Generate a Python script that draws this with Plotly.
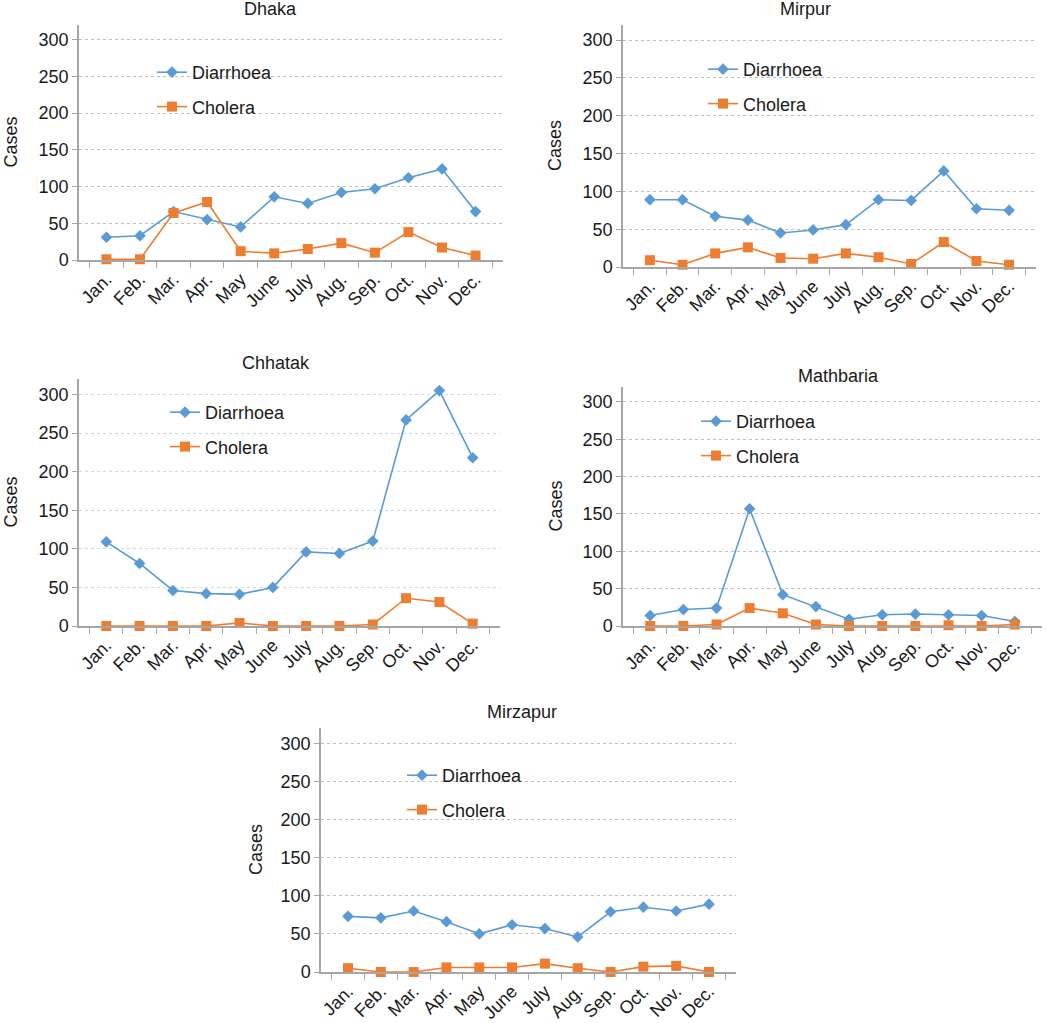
import plotly.graph_objects as go

months = ["Jan.", "Feb.", "Mar.", "Apr.", "May", "June",
          "July", "Aug.", "Sep.", "Oct.", "Nov.", "Dec."]

sites = ["Dhaka", "Mirpur", "Chhatak", "Mathbaria", "Mirzapur"]

dhaka_diarrhoea = [31, 33, 66, 55, 45, 86, 77, 92, 97, 112, 124, 66]
dhaka_cholera = [1, 1, 64, 79, 12, 9, 15, 23, 10, 38, 17, 6]

mirpur_diarrhoea = [89, 89, 67, 62, 45, 49, 56, 89, 88, 127, 77, 75]
mirpur_cholera = [9, 3, 18, 26, 12, 11, 18, 13, 4, 33, 8, 3]

chhatak_diarrhoea = [109, 81, 46, 42, 41, 50, 96, 94, 110, 267, 305, 218]
chhatak_cholera = [0, 0, 0, 0, 4, 0, 0, 0, 2, 36, 31, 3]

mathbaria_diarrhoea = [14, 22, 24, 157, 42, 26, 9, 15, 16, 15, 14, 6]
mathbaria_cholera = [0, 0, 2, 24, 17, 2, 0, 0, 0, 1, 0, 2]

mirzapur_diarrhoea = [73, 71, 80, 66, 50, 62, 57, 46, 79, 85, 80, 89]
mirzapur_cholera = [5, 0, 0, 6, 6, 6, 11, 5, 0, 7, 8, 0]

diarrhoea = [dhaka_diarrhoea, mirpur_diarrhoea, chhatak_diarrhoea,
             mathbaria_diarrhoea, mirzapur_diarrhoea]
cholera = [dhaka_cholera, mirpur_cholera, chhatak_cholera,
           mathbaria_cholera, mirzapur_cholera]

W, H = 1050, 1023
BLUE = "#5B9BD5"
ORANGE = "#ED7D31"
FONT = "Liberation Sans, Arial, sans-serif"


def px(x):
    return x / W


def py(y):
    return 1 - y / H


# panel boxes in pixels: left, right, top, bottom (bottom = value 0)
boxes = [
    (79, 503, 25, 260),
    (623, 1036, 25, 267),
    (79, 500, 379, 626),
    (623, 1042, 387, 626),
    (321, 736, 728, 972),
]
legend_pos = [(152, 54), (703, 51), (165, 394), (696, 403), (402, 757)]
title_pos = [(270, 9), (805, 9), (276, 363), (838, 376), (522, 712)]
ytitle_x = [10, 555, 10, 555, 256]
grid_colors = ["#bfbfbf", "#bfbfbf", "#c9daf0", "#bfbfbf", "#bfbfbf"]

fig = go.Figure()
layout = dict(annotations=[])

for i, name in enumerate(sites):
    n = "" if i == 0 else str(i + 1)
    leg = "legend" if i == 0 else f"legend{i + 1}"
    fig.add_trace(go.Scatter(
        x=months, y=diarrhoea[i], name="Diarrhoea", mode="lines+markers",
        xaxis="x" + n, yaxis="y" + n, legend=leg, legendgroup=f"d{i}",
        line=dict(color=BLUE, width=1.6),
        marker=dict(symbol="diamond", size=9, color=BLUE),
        cliponaxis=False,
    ))
    fig.add_trace(go.Scatter(
        x=months, y=cholera[i], name="Cholera", mode="lines+markers",
        xaxis="x" + n, yaxis="y" + n, legend=leg, legendgroup=f"c{i}",
        line=dict(color=ORANGE, width=1.6),
        marker=dict(symbol="square", size=10, color=ORANGE),
        cliponaxis=False,
    ))

    l, r, t, b = boxes[i]
    layout["xaxis" + n] = dict(
        domain=[px(l), px(r)], anchor="y" + n, type="category",
        automargin=False,
        tickangle=-45, tickson="boundaries", ticks="outside", ticklen=6,
        tickcolor="#a6a6a6", showline=True, linecolor="#a6a6a6",
        linewidth=1.5, showgrid=False,
        tickfont=dict(family=FONT, size=18, color="#1a1a1a"),
    )
    layout["yaxis" + n] = dict(
        domain=[py(b), py(t)], anchor="x" + n,
        automargin=False,
        range=[0, 320], tickvals=[0, 50, 100, 150, 200, 250, 300],
        ticks="outside", ticklen=5, tickcolor="#a6a6a6",
        showline=True, linecolor="#a6a6a6", linewidth=1.5,
        showgrid=True, gridcolor=grid_colors[i], griddash="dot",
        gridwidth=1.2, zeroline=False,
        tickfont=dict(family=FONT, size=18, color="#1a1a1a"),
    )
    lx, ly = legend_pos[i]
    layout[leg] = dict(
        x=px(lx), y=py(ly), xanchor="left", yanchor="top",
        bgcolor="rgba(0,0,0,0)", traceorder="grouped", tracegroupgap=8,
        font=dict(family=FONT, size=18, color="#1a1a1a"),
    )
    tx, ty = title_pos[i]
    layout["annotations"].append(dict(
        text=name, x=px(tx), y=py(ty), xref="paper", yref="paper",
        xanchor="center", yanchor="middle", showarrow=False,
        font=dict(family=FONT, size=18, color="#1a1a1a"),
    ))
    layout["annotations"].append(dict(
        text="Cases", x=px(ytitle_x[i]), y=py((t + b) / 2),
        xref="paper", yref="paper", textangle=-90,
        xanchor="center", yanchor="middle", showarrow=False,
        font=dict(family=FONT, size=18, color="#1a1a1a"),
    ))

fig.update_layout(
    width=W, height=H,
    margin=dict(l=0, r=0, t=0, b=0),
    plot_bgcolor="white", paper_bgcolor="white",
    showlegend=True,
    **layout,
)

# drop the browser's default body margin so the figure fills the window
fig.write_html(
    "out.html",
    config={"displayModeBar": False},
    post_script="document.body.style.margin = '0';",
)
